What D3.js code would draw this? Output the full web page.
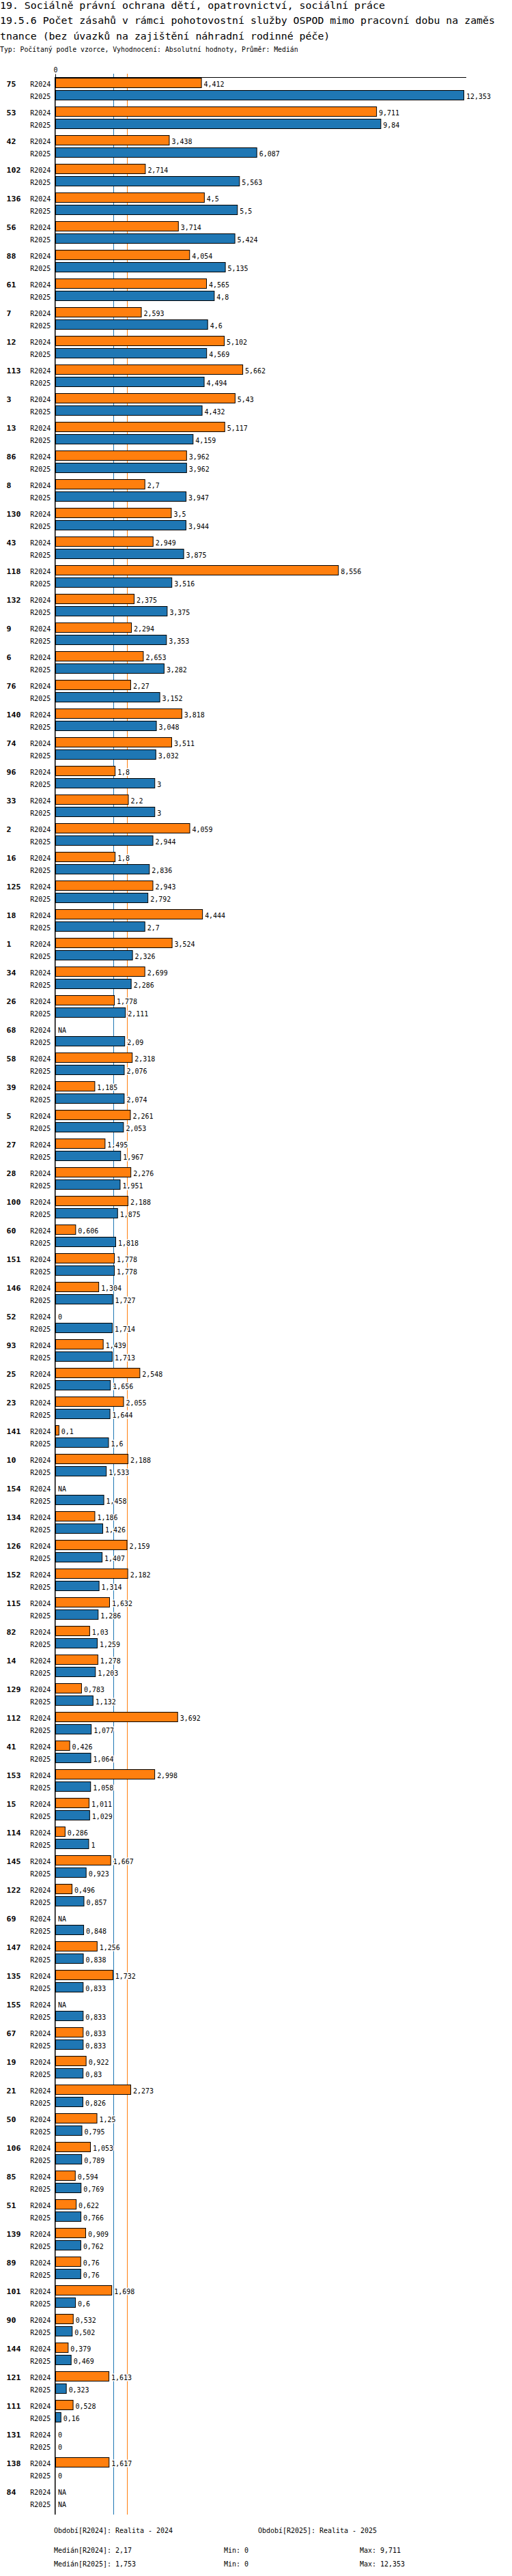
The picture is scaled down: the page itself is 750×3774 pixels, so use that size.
<!DOCTYPE html>
<html>
<head>
<meta charset="utf-8">
<script src="https://cdn.jsdelivr.net/npm/d3@7"></script>
<style>
  body { margin: 0; background: #fff; }
  text { font-family: "DejaVu Sans Mono", monospace; fill: #000; }
</style>
</head>
<body>
<div id="chart"></div>
<script>
(function() {
  // Data
  const titleLines = [
    "19. Sociálně právní ochrana dětí, opatrovnictví, sociální práce",
    "19.5.6 Počet zásahů v rámci pohotovostní služby OSPOD mimo pracovní dobu na zaměs",
    "tnance (bez úvazků na zajištění náhradní rodinné péče)"
  ];
  const subtitle = "Typ: Počítaný podle vzorce, Vyhodnocení: Absolutní hodnoty, Průměr: Medián";

  const series = ["R2024", "R2025"];
  const seriesNames = ["Realita - 2024", "Realita - 2025"];
  const medians = [2.17, 1.753];

  const groups = ["75","53","42","102","136","56","88","61","7","12","113","3","13","86","8","130","43","118",
    "132","9","6","76","140","74","96","33","2","16","125","18","1","34","26","68","58","39","5","27","28",
    "100","60","151","146","52","93","25","23","141","10","154","134","126","152","115","82","14","129",
    "112","41","153","15","114","145","122","69","147","135","155","67","19","21","50","106","85","51",
    "139","89","101","90","144","121","111","131","138","84"];

  const r2024 = [4.412,9.711,3.438,2.714,4.5,3.714,4.054,4.565,2.593,5.102,5.662,5.43,5.117,3.962,2.7,3.5,2.949,8.556,
    2.375,2.294,2.653,2.27,3.818,3.511,1.8,2.2,4.059,1.8,2.943,4.444,3.524,2.699,1.778,null,2.318,1.185,2.261,1.495,2.276,
    2.188,0.606,1.778,1.304,0,1.439,2.548,2.055,0.1,2.188,null,1.186,2.159,2.182,1.632,1.03,1.278,0.783,
    3.692,0.426,2.998,1.011,0.286,1.667,0.496,null,1.256,1.732,null,0.833,0.922,2.273,1.25,1.053,0.594,0.622,
    0.909,0.76,1.698,0.532,0.379,1.613,0.528,0,1.617,null];

  const r2025 = [12.353,9.84,6.087,5.563,5.5,5.424,5.135,4.8,4.6,4.569,4.494,4.432,4.159,3.962,3.947,3.944,3.875,3.516,
    3.375,3.353,3.282,3.152,3.048,3.032,3,3,2.944,2.836,2.792,2.7,2.326,2.286,2.111,2.09,2.076,2.074,2.053,1.967,1.951,
    1.875,1.818,1.778,1.727,1.714,1.713,1.656,1.644,1.6,1.533,1.458,1.426,1.407,1.314,1.286,1.259,1.203,1.132,
    1.077,1.064,1.058,1.029,1,0.923,0.857,0.848,0.838,0.833,0.833,0.833,0.83,0.826,0.795,0.789,0.769,0.766,
    0.762,0.76,0.6,0.502,0.469,0.323,0.16,0,0,null];

  const values = [r2024, r2025];
  const colors = ["#ff7f0e", "#1f77b4"];

  const width = 750, height = 3774;
  const fmt = v => v == null ? "NA" : String(+v.toFixed(3)).replace(".", ",");

  // monospace text squeezed/stretched to a fixed advance per character
  function fit(sel, adv) {
    sel.each(function() {
      d3.select(this)
        .attr("textLength", this.textContent.length * adv)
        .attr("lengthAdjust", "spacingAndGlyphs");
    });
    return sel;
  }

  const svg = d3.select("#chart").append("svg")
    .attr("width", width)
    .attr("height", height);

  // Titles
  svg.selectAll("text.title")
    .data(titleLines)
    .join("text")
    .attr("class", "title")
    .attr("x", 0)
    .attr("y", (d, i) => 13 + i * 22.3)
    .style("font-size", "14px")
    .text(d => d)
    .call(fit, 8.95);

  svg.append("text")
    .attr("x", 0)
    .attr("y", 76)
    .style("font-size", "11px")
    .text(subtitle)
    .call(fit, 5.9);

  const allVals = r2024.concat(r2025).filter(v => v != null);

  const x = d3.scaleLinear()
    .domain([0, d3.max(allVals)])
    .range([81, 679]);

  const y = d3.scaleBand()
    .domain(groups)
    .range([114, 114 + groups.length * 42]);

  const ys = d3.scaleBand()
    .domain(series)
    .range([0, 32])
    .paddingInner(4 / 18);

  const bottom = y.range()[1];

  // Median lines (behind bars)
  svg.selectAll("line.median")
    .data(medians)
    .join("line")
    .attr("class", "median")
    .attr("x1", d => Math.round(x(d)) + 0.5)
    .attr("x2", d => Math.round(x(d)) + 0.5)
    .attr("y1", 108)
    .attr("y2", bottom)
    .attr("stroke", (d, i) => colors[i])
    .attr("stroke-width", 1);

  // Top axis
  const axis = svg.append("g")
    .attr("transform", "translate(0,113.5)")
    .call(d3.axisTop(x).tickValues([0]).tickSize(5).tickSizeOuter(0).tickFormat(fmt));
  axis.select(".domain")
    .attr("d", `M${x(0)},0H${x.range()[1] + 4}`)
    .attr("stroke", "#000");
  axis.selectAll(".tick line").attr("stroke", "#000");
  axis.selectAll(".tick text")
    .attr("font-family", null)
    .style("font-size", "11px")
    .call(fit, 6);

  const rows = groups.flatMap((g, i) => series.map((s, j) => ({ g, s, j, v: values[j][i] })));

  // Bars
  svg.append("g")
    .selectAll("rect")
    .data(rows.filter(d => d.v))
    .join("rect")
    .attr("x", x(0) + 0.5)
    .attr("y", d => y(d.g) + ys(d.s) + 0.5)
    .attr("width", d => x(d.v) - x(0))
    .attr("height", ys.bandwidth())
    .attr("fill", d => colors[d.j])
    .attr("stroke", "#000")
    .attr("stroke-width", 1);

  // Vertical axis line
  svg.append("line")
    .attr("x1", x(0) - 0.25).attr("x2", x(0) - 0.25)
    .attr("y1", 113).attr("y2", bottom)
    .attr("stroke", "#000")
    .attr("stroke-width", 1.5);

  // Group labels
  svg.append("g")
    .selectAll("text")
    .data(groups)
    .join("text")
    .attr("x", 9.5)
    .attr("y", d => y(d) + 13)
    .style("font-size", "11px")
    .style("font-weight", "bold")
    .text(d => d)
    .call(fit, 7);

  // Series labels
  svg.append("g")
    .selectAll("text")
    .data(rows)
    .join("text")
    .attr("x", 44.3)
    .attr("y", d => y(d.g) + ys(d.s) + 13)
    .style("font-size", "11px")
    .text(d => d.s)
    .call(fit, 6);

  // Value labels
  svg.append("g")
    .selectAll("text")
    .data(rows)
    .join("text")
    .attr("x", d => x(d.v || 0) + 4)
    .attr("y", d => y(d.g) + ys(d.s) + 13)
    .style("font-size", "11px")
    .attr("stroke", "#fff")
    .attr("stroke-width", 3)
    .attr("paint-order", "stroke")
    .text(d => fmt(d.v))
    .call(fit, 6);

  // Legend and summary
  const legend = svg.append("g").style("font-size", "11px");
  series.forEach((s, i) => {
    const vals = values[i].filter(v => v != null);
    legend.append("text")
      .attr("x", i === 0 ? 79 : 378)
      .attr("y", 3710.5)
      .text(`Období[${s}]: ${seriesNames[i]}`);
    const yy = 3740 + i * 20;
    legend.append("text").attr("x", 79).attr("y", yy)
      .text(`Medián[${s}]: ${fmt(medians[i])}`);
    legend.append("text").attr("x", 328).attr("y", yy)
      .text(`Min: ${fmt(d3.min(vals))}`);
    legend.append("text").attr("x", 527).attr("y", yy)
      .text(`Max: ${fmt(d3.max(vals))}`);
  });
  legend.selectAll("text").call(fit, 6);
})();
</script>
</body>
</html>
